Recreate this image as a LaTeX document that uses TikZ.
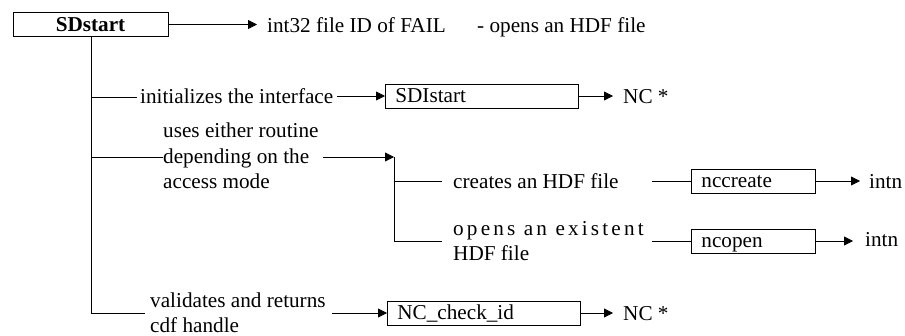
\documentclass[tikz,border=0pt]{standalone}
\usepackage{fontspec}
\setmainfont{Liberation Serif}
\usetikzlibrary{arrows.meta}
\newcommand{\dfont}{\fontsize{21.2}{25.5}\selectfont}
\begin{document}
\begin{tikzpicture}[x=1pt,y=-1pt,
  every node/.style={font=\dfont},
  txt/.style={anchor=base west, inner sep=0pt},
  box/.style={draw, line width=0.8pt, rectangle, minimum height=24pt, inner xsep=10pt, inner ysep=0pt,
              text height=15pt, text depth=2pt, align=left, anchor=west},
  ln/.style={line width=0.8pt},
  arr/.style={ln, -{Triangle[length=9pt,width=9pt]}}]
\useasboundingbox (0,0) rectangle (905,335);

% boxes
\node[box, anchor=center, text width=135pt, align=center, font=\dfont\bfseries] (sd) at (90.5,24.5) {SDstart};
\node[box, text width=173pt] (sdi) at (385,96) {SDIstart};
\node[box, text width=104pt] (ncc) at (691,181) {nccreate};
\node[box, text width=104pt] (nco) at (691,241) {ncopen};
\node[box, text width=173pt] (chk) at (387,313) {NC\_check\_id};

% texts
\node[txt] (ret) at (267,32) {int32 file ID of FAIL};
\node[txt] (desc) at (477,32) {- opens an HDF file};
\node[txt] (init) at (140,103) {initializes the interface};
\node[txt] (nc1) at (623,103) {NC *};
\node[txt] (uses1) at (163,137) {uses either routine};
\node[txt] (uses2) at (163,163) {depending on the};
\node[txt] (uses3) at (163,188) {access mode};
\node[txt] (cre) at (453,188) {creates an HDF file};
\node[txt] (in1) at (869,188) {intn};
\node[txt] (ope1) at (453,235) {\addfontfeature{LetterSpace=15}opens an existent};
\node[txt] (ope2) at (453,260) {HDF file};
\node[txt] (in2) at (865,246) {intn};
\node[txt] (val1) at (150,307) {validates and returns};
\node[txt] (val2) at (150,332) {cdf handle};
\node[txt] (nc2) at (623,320) {NC *};

% coordinates
\coordinate (b1) at (91,97);
\coordinate (b2) at (91,157);
\coordinate (b3) at (91,313);
\coordinate (e1) at (137,97);
\coordinate (e2) at (163,157);
\coordinate (e3) at (145,313);
\coordinate (r0) at (257,24.5);
\coordinate (a1) at (337,96);
\coordinate (a1e) at (613,96);
\coordinate (a2) at (323,157);
\coordinate (v0) at (394,157);
\coordinate (v1) at (394,181);
\coordinate (v2) at (394,241);
\coordinate (h1) at (442,181);
\coordinate (h2) at (442,241);
\coordinate (c1) at (652,181);
\coordinate (c2) at (652,241);
\coordinate (t1) at (860,181);
\coordinate (t2) at (853,241);
\coordinate (a3) at (332,313);
\coordinate (a3e) at (613,313);

% connectors
\draw[arr] (sd.east) -- (r0);
\draw[ln] (sd.south -| b1) -- (b3) -- (e3);
\draw[ln] (b1) -- (e1);
\draw[ln] (b2) -- (e2);
\draw[arr] (a1) -- (sdi.west);
\draw[arr] (sdi.east) -- (a1e);
\draw[arr] (a2) -- (v0);
\draw[ln] (v0) -- (v2) -- (h2);
\draw[ln] (v1) -- (h1);
\draw[ln] (c1) -- (ncc.west);
\draw[arr] (ncc.east) -- (t1);
\draw[ln] (c2) -- (nco.west);
\draw[arr] (nco.east) -- (t2);
\draw[arr] (a3) -- (chk.west);
\draw[arr] (chk.east) -- (a3e);
\end{tikzpicture}
\end{document}
